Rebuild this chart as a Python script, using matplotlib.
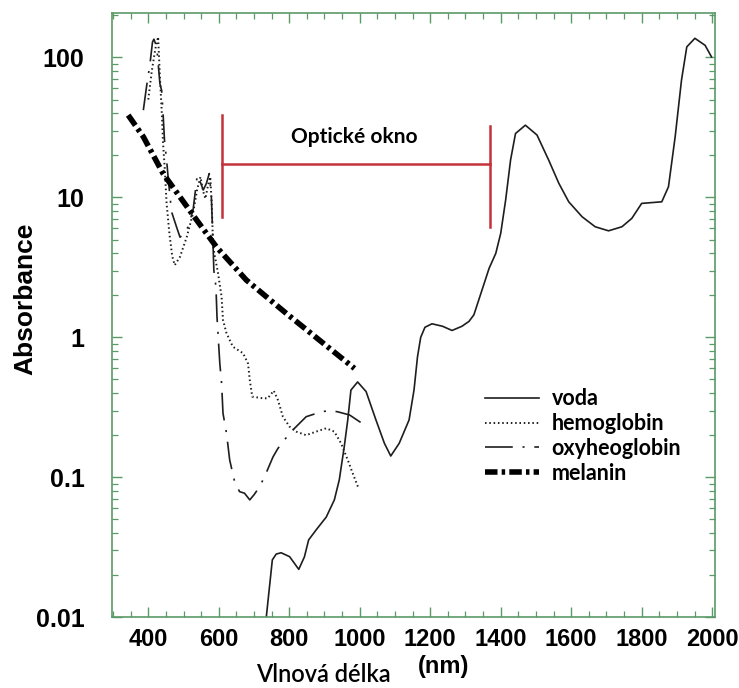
import numpy as np
import matplotlib
matplotlib.use('Agg')
import matplotlib.pyplot as plt
from matplotlib.ticker import FixedLocator, FixedFormatter, LogLocator, NullFormatter, MultipleLocator

# water (voda)
WATER_NM = [735, 752, 763, 777, 801, 827, 843, 855, 876, 905, 928, 942, 956, 966, 975, 994,
            1018, 1046, 1070, 1088, 1112, 1140, 1154, 1164, 1173, 1185, 1205, 1235, 1262,
            1290, 1310, 1324, 1367, 1386, 1400, 1414, 1428, 1442, 1470, 1503, 1536, 1565,
            1593, 1631, 1668, 1706, 1744, 1772, 1800, 1857, 1876, 1895, 1913, 1928, 1951,
            1980, 1998]
WATER_ABS = [0.0101, 0.0257, 0.0283, 0.0289, 0.0271, 0.022, 0.027, 0.0357, 0.042, 0.052,
             0.069, 0.096, 0.165, 0.257, 0.42, 0.48, 0.41, 0.257, 0.175, 0.142, 0.175,
             0.257, 0.42, 0.73, 1.0, 1.18, 1.25, 1.2, 1.12, 1.2, 1.3, 1.45, 3.11, 3.98, 5.53,
             9.57, 18.5, 28.6, 32.8, 27.9, 18.5, 12.6, 9.3, 7.27, 6.17, 5.77, 6.17, 7.08,
             9.06, 9.3, 11.9, 27.1, 68.9, 119, 137, 122, 101]

# deoxy hemoglobin
HB_NM = [400, 410, 420, 428, 433, 438, 442, 447, 452, 460, 468, 475, 490, 509, 527, 539,
         548, 556, 562, 569, 576, 580, 584, 598, 608, 612, 622, 640, 669, 683, 688, 695,
         725, 739, 756, 768, 782, 801, 820, 848, 876, 905, 928, 947, 966, 980, 997]
HB_ABS = [50, 80, 115, 140, 72.7, 42, 24.3, 15.7, 9.06, 5.5, 3.8, 3.28, 3.76, 5.2, 7.69,
          11.5, 14.0, 11.0, 9.8, 12.0, 14.0, 9.0, 4.44, 2.87, 1.95, 1.33, 1.07, 0.857, 0.77,
          0.65, 0.496, 0.377, 0.367, 0.367, 0.416, 0.356, 0.271, 0.23, 0.212, 0.2, 0.212,
          0.224, 0.212, 0.175, 0.133, 0.107, 0.083]

# oxyhemoglobin
HBO_NM = [386, 395, 405, 412, 416, 424, 433, 438, 442, 446, 452, 457, 466, 480, 490, 500,
          513, 527, 539, 546, 556, 565, 573, 579, 584, 586, 592, 595, 603, 608, 612, 622,
          631, 645, 659, 673, 688, 700, 715, 730, 754, 768, 790, 815, 848, 891, 915, 937,
          971, 1013]
HBO_ABS = [42, 61.7, 90.6, 129, 135, 119, 65, 58, 39.8, 25.6, 18.5, 13.3, 7.9, 6.17, 5.2,
           5.4, 6.17, 8.1, 14.4, 13.2, 11.3, 12.6, 14.8, 10.1, 4.44, 3.02, 2.3, 1.4, 0.65,
           0.47, 0.287, 0.206, 0.133, 0.093, 0.079, 0.077, 0.069, 0.075, 0.085, 0.101,
           0.14, 0.161, 0.19, 0.224, 0.271, 0.294, 0.3, 0.294, 0.279, 0.237]

# melanin
MEL_NM = [343, 386, 442, 537, 593, 678, 792, 985]
MEL_ABS = [38.7, 27.1, 14.8, 6.9, 4.44, 2.57, 1.48, 0.60]

# optical window bracket
WIN_NM = [608, 1371]
WIN_LEFT = [7.27, 38.7]
WIN_RIGHT = [6.17, 32.3]
WIN_Y = 17.3

XTICKS = [400, 600, 800, 1000, 1200, 1400, 1600, 1800, 2000]
YTICKS = [0.01, 0.1, 1, 10, 100]
YLABELS = ['0.01', '0.1', '1', '10', '100']

FRAME = '#5b9a68'
RED = '#c4313b'
INK = '#1e1e1e'

plt.rcParams['lines.scale_dashes'] = False

fig = plt.figure(figsize=(7.39, 6.88), dpi=100)
ax = fig.add_axes([0.152, 0.1028, 0.8155, 0.878])

ax.plot(WATER_NM, WATER_ABS, color=INK, lw=1.2, label='voda')
ax.plot(HB_NM, HB_ABS, color=INK, lw=1.4, dashes=(1.1, 2.0), label='hemoglobin')
ax.plot(HBO_NM, HBO_ABS, color=INK, lw=1.2, dashes=(20, 7, 1.5, 7), label='oxyheoglobin')
ax.plot(MEL_NM, MEL_ABS, color='black', lw=4.0, dashes=(9, 3, 2.5, 3), label='melanin')

# optical window
ax.plot([WIN_NM[0]] * 2, WIN_LEFT, color=RED, lw=1.8)
ax.plot([WIN_NM[1]] * 2, WIN_RIGHT, color=RED, lw=1.8)
ax.plot(WIN_NM, [WIN_Y] * 2, color=RED, lw=1.8)
ax.text(985, 26.9, 'Optické okno', ha='center', va='center', fontsize=15,
        family='Lato', weight='bold', color='black')

ax.set_yscale('log')
ax.set_xlim(298, 2008)
ax.set_ylim(0.01, 207)

ax.xaxis.set_major_locator(FixedLocator(XTICKS))
ax.xaxis.set_minor_locator(MultipleLocator(50))
ax.yaxis.set_major_locator(FixedLocator(YTICKS))
ax.yaxis.set_major_formatter(FixedFormatter(YLABELS))
ax.yaxis.set_minor_locator(LogLocator(base=10, subs=np.arange(2, 10)))
ax.yaxis.set_minor_formatter(NullFormatter())

for s in ax.spines.values():
    s.set_color(FRAME)
    s.set_linewidth(1.2)
ax.tick_params(which='both', direction='in', top=True, right=True, colors=FRAME)
ax.tick_params(which='major', length=7, width=1.0)
ax.tick_params(which='minor', length=4, width=0.9)
ax.tick_params(axis='x', which='major', pad=8)
ax.tick_params(axis='y', which='major', pad=20)
for lab in ax.get_xticklabels():
    lab.set_fontfamily('Liberation Sans')
    lab.set_fontweight('bold')
    lab.set_fontsize(17)
    lab.set_color('black')
for lab in ax.get_yticklabels():
    lab.set_fontfamily('Liberation Sans')
    lab.set_fontweight('bold')
    lab.set_fontsize(18)
    lab.set_color('black')

fig.text(0.034, 0.565, 'Absorbance', rotation=90, ha='center', va='center',
         fontsize=19, family='Liberation Sans', weight='bold')
fig.text(0.437, 0.020, 'Vlnová délka', ha='center', va='center', fontsize=17,
         family='Lato', weight='semibold')
fig.text(0.600, 0.031, '(nm)', ha='center', va='center', fontsize=17,
         family='Liberation Sans', weight='bold')

leg = ax.legend(loc='upper left', bbox_to_anchor=(0.6, 0.397), frameon=False,
                handlelength=2.5, handletextpad=0.6, labelspacing=0.18, borderpad=0,
                prop={'family': 'Lato', 'weight': 'bold', 'size': 15.5})

fig.savefig('out.png', dpi=100)
